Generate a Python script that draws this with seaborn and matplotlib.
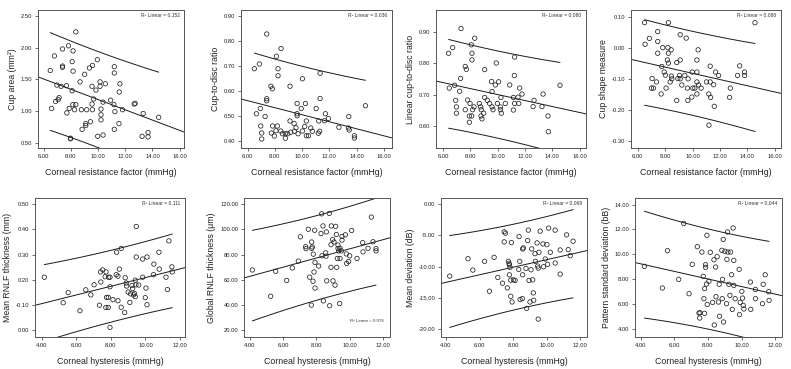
import numpy as np
import matplotlib
matplotlib.use("Agg")
import matplotlib.pyplot as plt
import seaborn as sns

# ---- data (approximate) ----
# top row: corneal resistance factor (mmHg)
crf_cup_area = [8.37, 7.83, 7.39, 6.80, 8.17, 9.95, 8.10, 7.39, 7.39, 6.49, 8.17, 9.59, 9.37, 9.02,
                11.20, 11.20, 8.68, 10.15, 10.54, 11.61, 6.98, 7.29, 7.68, 9.56, 10.15, 9.85, 8.10,
                11.56, 7.14, 7.07, 6.88, 9.68, 10.37, 10.93, 11.17, 12.66, 12.73, 6.59, 7.88, 8.15,
                8.37, 8.27, 8.78, 9.17, 9.59, 10.22, 11.24, 11.80, 7.71, 9.56, 10.22, 13.32, 14.46,
                9.10, 9.10, 9.44, 10.22, 11.54, 8.83, 11.20, 7.98, 7.98, 9.98, 10.37, 13.24, 13.68, 13.68]
cup_area = [2.25, 2.03, 1.98, 1.87, 1.95, 1.81, 1.78, 1.71, 1.69, 1.64, 1.63, 1.72, 1.68, 1.58,
            1.70, 1.60, 1.46, 1.46, 1.43, 1.43, 1.41, 1.39, 1.40, 1.39, 1.39, 1.33, 1.32,
            1.30, 1.21, 1.18, 1.15, 1.19, 1.14, 1.17, 1.10, 1.11, 1.12, 1.04, 1.04, 1.10,
            1.10, 1.02, 1.02, 1.02, 1.02, 1.03, 0.99, 1.02, 0.97, 1.11, 0.94, 0.96, 0.90,
            0.80, 0.77, 0.83, 0.86, 0.80, 0.71, 0.71, 0.57, 0.56, 0.60, 0.62, 0.60, 0.66, 0.59]

crf_cdr = [7.40, 8.45, 8.11, 6.86, 6.49, 8.23, 11.32, 8.23, 10.02, 9.11, 7.71, 7.81, 7.40, 7.40,
           11.32, 9.63, 10.24, 6.93, 9.93, 11.03, 14.65, 6.64, 9.63, 9.63, 7.28, 11.71, 13.43,
           9.11, 10.31, 11.22, 11.64, 11.93, 6.96, 7.83, 8.18, 9.41, 10.19, 10.63, 9.55, 13.40,
           7.03, 7.74, 8.43, 8.08, 8.55, 8.77, 8.94, 9.16, 9.43, 9.70, 10.02, 10.75, 11.29, 11.19,
           13.46, 12.70, 13.84, 13.84, 7.03, 7.96, 8.77, 10.31, 10.46]
cdr = [0.828, 0.770, 0.739, 0.708, 0.689, 0.689, 0.671, 0.661, 0.649, 0.619, 0.619, 0.609, 0.569, 0.561,
       0.570, 0.550, 0.550, 0.530, 0.530, 0.530, 0.541, 0.509, 0.509, 0.501, 0.498, 0.509, 0.498,
       0.480, 0.480, 0.480, 0.481, 0.490, 0.460, 0.460, 0.460, 0.470, 0.458, 0.452, 0.453, 0.452,
       0.432, 0.432, 0.440, 0.441, 0.429, 0.429, 0.429, 0.435, 0.439, 0.429, 0.440, 0.439, 0.439, 0.431,
       0.444, 0.455, 0.421, 0.412, 0.408, 0.420, 0.411, 0.421, 0.421]

crf_lcdr = [7.32, 8.32, 6.71, 6.41, 8.07, 8.12, 8.12, 9.90, 11.24, 7.63, 7.71, 9.05, 7.29, 11.22,
            9.56, 10.07, 9.83, 10.88, 6.46, 6.85, 11.61, 14.56, 9.59, 7.22, 11.78, 10.24, 9.05,
            11.15, 11.49, 6.93, 7.80, 9.24, 12.66, 13.32, 7.98, 8.66, 9.41, 9.98, 10.56, 11.24,
            11.54, 6.98, 8.27, 8.76, 9.59, 10.20, 12.59, 13.24, 9.66, 10.20, 7.63, 8.17, 8.80,
            11.15, 6.98, 8.98, 10.27, 7.93, 8.10, 8.78, 13.68, 8.85, 7.93, 13.71]
lcdr = [0.911, 0.880, 0.850, 0.832, 0.859, 0.832, 0.811, 0.801, 0.820, 0.790, 0.781, 0.780, 0.752, 0.761,
        0.742, 0.741, 0.731, 0.731, 0.721, 0.730, 0.721, 0.730, 0.710, 0.711, 0.702, 0.691, 0.691,
        0.691, 0.692, 0.682, 0.683, 0.682, 0.682, 0.702, 0.672, 0.672, 0.672, 0.672, 0.672, 0.672,
        0.672, 0.661, 0.661, 0.661, 0.661, 0.661, 0.662, 0.662, 0.652, 0.652, 0.652, 0.652, 0.652,
        0.651, 0.641, 0.641, 0.641, 0.632, 0.632, 0.632, 0.632, 0.623, 0.612, 0.582]

crf_shape = [6.50, 8.24, 14.56, 6.54, 6.85, 7.46, 7.46, 9.10, 9.54, 7.46, 7.83, 8.20, 8.24, 8.44,
             10.41, 8.17, 8.24, 8.85, 9.10, 10.32, 7.76, 11.29, 13.44, 7.93, 8.02, 9.98, 10.32,
             11.68, 11.90, 13.29, 13.80, 13.80, 7.05, 8.49, 8.93, 9.10, 9.44, 9.68, 9.05, 7.37,
             8.37, 10.32, 11.29, 11.02, 9.22, 10.44, 11.54, 7.00, 7.15, 8.07, 9.63, 10.02, 10.17,
             10.63, 12.76, 7.71, 10.32, 11.19, 11.32, 9.95, 12.71, 8.85, 9.66, 11.59, 11.20, 8.46]
cup_shape = [0.083, 0.083, 0.083, 0.013, 0.032, 0.054, 0.022, 0.044, 0.033, -0.016, 0.002, 0.002, -0.016, -0.005,
             -0.005, -0.038, -0.048, -0.046, -0.038, -0.038, -0.059, -0.058, -0.057, -0.077, -0.087, -0.077, -0.077,
             -0.077, -0.088, -0.088, -0.077, -0.088, -0.098, -0.099, -0.098, -0.099, -0.088, -0.099, -0.088, -0.109,
             -0.109, -0.109, -0.109, -0.109, -0.119, -0.119, -0.118, -0.129, -0.129, -0.129, -0.129, -0.129, -0.129,
             -0.129, -0.129, -0.148, -0.148, -0.148, -0.159, -0.158, -0.159, -0.169, -0.169, -0.188, -0.249, -0.090]

# bottom row: corneal hysteresis (mmHg)
ch_rnfl = [4.15, 5.24, 5.53, 6.21, 6.55, 6.84, 7.03, 7.34, 7.40, 7.53, 7.67, 7.72, 7.42, 7.75, 7.85,
           7.85, 7.71, 7.87, 7.95, 7.95, 7.95, 8.12, 8.33, 8.31, 8.41, 8.41, 8.49, 8.60, 8.60, 8.80,
           8.83, 8.89, 8.91, 9.00, 9.10, 9.14, 9.22, 9.26, 9.31, 9.37, 9.41, 9.45, 9.47, 9.47, 9.41,
           9.61, 9.84, 9.84, 9.99, 10.03, 10.09, 10.09, 10.49, 10.47, 10.78, 10.80, 11.19, 11.27,
           11.36, 11.53, 11.55]
mean_rnfl = [0.210, 0.109, 0.149, 0.077, 0.160, 0.140, 0.180, 0.099, 0.231, 0.239, 0.212, 0.231, 0.191, 0.130, 0.130,
             0.090, 0.090, 0.210, 0.210, 0.172, 0.011, 0.121, 0.309, 0.220, 0.214, 0.117, 0.242, 0.324, 0.091, 0.070,
             0.208, 0.187, 0.175, 0.151, 0.110, 0.144, 0.177, 0.165, 0.140, 0.145, 0.133, 0.180, 0.290, 0.411, 0.198,
             0.179, 0.282, 0.210, 0.129, 0.167, 0.101, 0.290, 0.262, 0.220, 0.309, 0.242, 0.210, 0.161,
             0.354, 0.251, 0.231]

ch_global = [4.16, 5.26, 5.56, 6.22, 6.56, 6.92, 7.04, 7.36, 7.38, 7.52, 7.60, 7.72, 7.72, 7.76, 7.80,
             7.70, 7.82, 7.86, 7.90, 7.92, 7.92, 8.14, 8.28, 8.32, 8.34, 8.40, 8.42, 8.56, 8.58, 8.60,
             8.62, 8.78, 8.80, 8.88, 8.88, 8.90, 8.98, 9.00, 9.06, 9.12, 9.16, 9.20, 9.22, 9.26, 9.30,
             9.30, 9.34, 9.40, 9.42, 9.42, 9.50, 9.54, 9.54, 9.74, 9.80, 9.82, 9.94, 10.00, 10.12,
             10.44, 10.80, 10.78, 11.10, 11.30, 11.40, 11.58, 11.58]
global_rnfl = [67.8, 47.0, 66.8, 59.5, 69.4, 74.8, 94.0, 86.2, 84.7, 100.0, 62.1, 89.9, 84.9, 86.0, 58.9,
               40.0, 80.3, 66.2, 99.2, 73.8, 53.5, 70.9, 96.6, 112.2, 79.0, 102.6, 43.4, 81.3, 78.7, 97.9,
               59.2, 112.5, 39.5, 87.8, 69.9, 102.6, 91.9, 59.2, 89.9, 55.8, 102.3, 95.8, 69.9, 76.9, 87.5,
               84.9, 82.9, 41.3, 76.9, 84.9, 82.9, 94.3, 91.4, 95.6, 80.5, 73.0, 74.5, 79.0, 99.0,
               76.9, 82.1, 89.4, 84.9, 109.6, 90.1, 84.7, 82.9]

ch_md = [4.22, 5.31, 5.60, 6.30, 6.87, 7.09, 6.59, 7.37, 7.47, 7.47, 7.55, 7.66, 7.72, 7.76, 7.78,
         7.82, 7.78, 7.86, 7.86, 7.90, 7.94, 8.02, 8.12, 8.34, 8.36, 8.40, 8.42, 8.55, 8.57, 8.57,
         8.61, 8.77, 8.81, 8.87, 8.91, 8.95, 9.01, 9.07, 9.11, 9.17, 9.21, 9.23, 9.31, 9.33, 9.43,
         9.47, 9.50, 9.50, 9.54, 9.62, 9.78, 9.82, 9.92, 10.02, 10.06, 10.12, 10.22, 10.51, 10.51,
         10.81, 10.81, 11.19, 11.29, 11.41, 11.58]
mean_dev = [-11.52, -8.75, -10.56, -9.17, -8.53, -11.73, -13.92, -12.64, -6.08, -4.48, -4.69, -13.39, -9.17, -9.49, -9.71,
            -10.13, -11.31, -12.16, -14.72, -6.19, -15.63, -12.11, -12.21, -10.45, -5.23, -9.17, -15.25, -15.09, -11.31, -7.20,
            -7.04, -10.29, -16.64, -5.87, -4.21, -12.21, -15.63, -10.51, -7.20, -12.11, -14.19, -15.36, -7.95, -9.17, -6.24,
            -9.92, -10.24, -18.35, -7.73, -4.37, -6.40, -10.03, -8.80, -6.51, -9.65, -3.89, -7.73, -9.44, -4.21,
            -7.36, -11.20, -4.96, -7.31, -8.27, -5.97]

ch_psd = [4.22, 5.29, 5.59, 6.26, 6.56, 6.88, 7.07, 7.37, 7.47, 7.53, 7.51, 7.64, 7.72, 7.76, 7.80,
          7.80, 7.86, 7.86, 7.92, 7.94, 7.96, 8.06, 8.14, 8.28, 8.36, 8.38, 8.46, 8.48, 8.55, 8.63,
          8.67, 8.69, 8.83, 8.85, 8.87, 8.91, 8.93, 9.01, 9.11, 9.13, 9.17, 9.19, 9.25, 9.31, 9.35,
          9.41, 9.45, 9.50, 9.54, 9.54, 9.62, 9.86, 9.88, 9.92, 10.02, 10.06, 10.10, 10.14, 10.53,
          10.55, 10.83, 10.83, 11.25, 11.29, 11.41, 11.62, 11.64]
psd = [9.03, 7.28, 10.29, 7.98, 12.49, 6.82, 9.19, 10.61, 5.26, 5.29, 4.86, 10.18, 8.22, 6.42, 7.23,
       5.24, 9.16, 8.95, 7.60, 11.53, 5.96, 7.82, 10.16, 6.12, 9.56, 4.30, 8.97, 6.58, 9.81, 6.15,
       7.58, 5.00, 10.32, 6.42, 7.98, 11.20, 4.54, 10.24, 6.02, 9.59, 11.80, 10.18, 7.58, 6.69, 10.18,
       8.35, 5.56, 12.12, 9.51, 7.49, 6.42, 8.78, 5.13, 6.12, 7.01, 6.47, 5.88, 5.59, 7.76,
       5.56, 6.42, 7.17, 6.02, 7.58, 8.35, 6.98, 6.28]

r2_labels = ["R² Linear = 0.152", "R² Linear = 0.036", "R² Linear = 0.080", "R² Linear = 0.088",
             "R² Linear = 0.111", "R² Linear = 0.076", "R² Linear = 0.069", "R² Linear = 0.044"]

crf_xticks = [6, 8, 10, 12, 14, 16]
ch_xticks = [4, 6, 8, 10, 12]

panels = [
    # x, y, ylabel, xlim, ylim, yticks, yticklabels, r2 at bottom?
    (crf_cup_area, cup_area, "Cup area (mm²)", (5.59, 16.32), (0.415, 2.596),
     [0.5, 1.0, 1.5, 2.0, 2.5], None),
    (crf_cdr, cdr, "Cup-to-disc ratio", (5.51, 16.6), (0.372, 0.924),
     [0.4, 0.5, 0.6, 0.7, 0.8, 0.9], None),
    (crf_lcdr, lcdr, "Linear cup-to-disc ratio", (5.49, 16.46), (0.53, 0.97),
     [0.6, 0.7, 0.8, 0.9], None),
    (crf_shape, cup_shape, "Cup shape measure", (5.51, 16.46), (-0.323, 0.124),
     [-0.3, -0.2, -0.1, 0.0, 0.1], None),
    (ch_rnfl, mean_rnfl, "Mean RNLF thickness (mm)", (3.61, 12.29), (-0.027, 0.524),
     [0.0, 0.1, 0.2, 0.3, 0.4, 0.5], ["0.00", "-0.10", "0.20", "0.30", "0.40", "0.50"]),
    (ch_global, global_rnfl, "Global RNLF thickness (μm)", (3.66, 12.42), (14.8, 124.7),
     [20, 40, 60, 80, 100, 120], None),
    (ch_md, mean_dev, "Mean deviation (dB)", (3.70, 12.41), (-21.2, 0.9),
     [-20, -15, -10, -5, 0], None),
    (ch_psd, psd, "Pattern standard deviation (bB)", (3.66, 12.41), (3.33, 14.54),
     [4, 6, 8, 10, 12, 14], None),
]

# axes boxes in pixels: left, right, top, bottom
boxes = [(38, 184, 10, 148), (241, 392, 10, 148), (436, 586, 10, 148), (631, 781, 10, 148),
         (35, 185, 198, 337), (244, 390, 198, 337), (441, 587, 198, 337), (635, 782, 198, 337)]

W, H = 791, 369
sns.set_style("ticks")
plt.rcParams["font.family"] = ["Liberation Sans", "DejaVu Sans"]
fig = plt.figure(figsize=(W / 100, H / 100), dpi=100)

line_col = "#1a1a1a"
frame_col = "#555555"

for i, (x, y, ylab, xlim, ylim, yt, ytl) in enumerate(panels):
    l, r, t, b = boxes[i]
    ax = fig.add_axes([l / W, 1 - b / H, (r - l) / W, (b - t) / H])
    x = np.asarray(x)
    y = np.asarray(y)
    ax.set_xlim(*xlim)
    ax.set_ylim(*ylim)

    sns.scatterplot(x=x, y=y, ax=ax, marker="o", s=10, facecolor="none",
                    edgecolor="#222222", linewidth=0.55, zorder=3)
    # fitted line over the whole axis
    sns.regplot(x=x, y=y, ax=ax, scatter=False, ci=None, truncate=False,
                line_kws=dict(color=line_col, lw=0.7))

    # 95% prediction interval over the data range
    n = len(x)
    b1, b0 = np.polyfit(x, y, 1)
    resid = y - (b0 + b1 * x)
    s = np.sqrt(np.sum(resid ** 2) / (n - 2))
    xs = np.linspace(x.min(), x.max(), 100)
    se = s * np.sqrt(1 + 1 / n + (xs - x.mean()) ** 2 / np.sum((x - x.mean()) ** 2))
    yhat = b0 + b1 * xs
    ax.plot(xs, yhat + 1.997 * se, color=line_col, lw=0.7)
    ax.plot(xs, yhat - 1.997 * se, color=line_col, lw=0.7)

    ax.set_xlim(*xlim)
    ax.set_ylim(*ylim)
    ax.set_xticks(crf_xticks if i < 4 else ch_xticks)
    ax.xaxis.set_major_formatter(matplotlib.ticker.FormatStrFormatter("%.2f"))
    ax.set_yticks(yt)
    if ytl is None:
        ax.yaxis.set_major_formatter(matplotlib.ticker.FormatStrFormatter("%.2f"))
    else:
        ax.set_yticklabels(ytl)
    ax.tick_params(labelsize=4.2, length=2.5, width=0.6, color=frame_col, pad=1.5,
                   labelcolor="#222222")
    for sp in ax.spines.values():
        sp.set_visible(True)
        sp.set_color(frame_col)
        sp.set_linewidth(0.7)

    ax.set_xlabel("Corneal resistance factor (mmHg)" if i < 4 else "Corneal hysteresis (mmHg)",
                  fontsize=6.3, labelpad=7, color="#222222")
    ax.set_ylabel(ylab, fontsize=6.3, labelpad=3, color="#222222")

    if i == 5:
        ax.text(0.96, 0.1, r2_labels[i], transform=ax.transAxes, ha="right", va="bottom",
                fontsize=3.2, color="#333333")
    else:
        ax.text(0.97, 0.975, r2_labels[i], transform=ax.transAxes, ha="right", va="top",
                fontsize=3.6, color="#333333")

fig.savefig("out.png", dpi=100)
